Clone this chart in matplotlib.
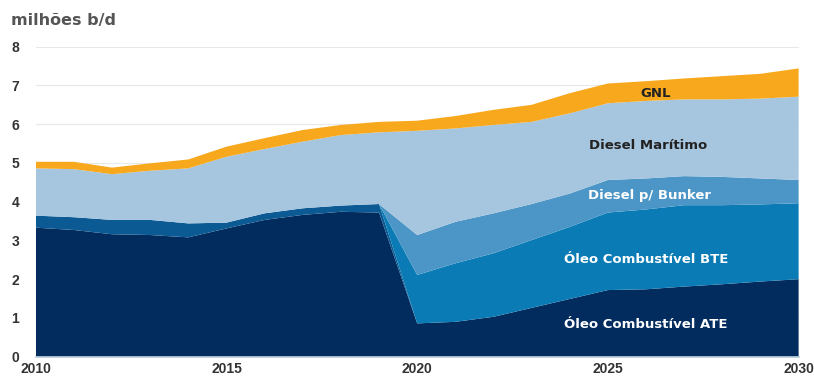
import numpy as np
import matplotlib
matplotlib.use("Agg")
import matplotlib.pyplot as plt

anos = list(range(2010, 2031))

# milhões b/d, por combustível (camadas empilhadas de baixo para cima)
oc_ate = [3.33, 3.27, 3.16, 3.14, 3.08, 3.31, 3.53, 3.66, 3.74, 3.72,
          0.86, 0.90, 1.03, 1.26, 1.49, 1.72, 1.74, 1.81, 1.87, 1.94, 2.00]
oc_outros = [0.31, 0.33, 0.37, 0.39, 0.36, 0.15, 0.17, 0.17, 0.16, 0.22,
             0, 0, 0, 0, 0, 0, 0, 0, 0, 0, 0]
oc_bte = [0, 0, 0, 0, 0, 0, 0, 0, 0, 0,
          1.25, 1.51, 1.64, 1.75, 1.86, 2.00, 2.06, 2.10, 2.04, 1.99, 1.96]
diesel_bunker = [0, 0, 0, 0, 0, 0, 0, 0, 0, 0,
                 1.03, 1.07, 1.03, 0.93, 0.86, 0.84, 0.80, 0.75, 0.73, 0.67, 0.60]
diesel_maritimo = [1.22, 1.24, 1.18, 1.27, 1.42, 1.70, 1.66, 1.72, 1.82, 1.85,
                   2.69, 2.41, 2.28, 2.12, 2.07, 1.98, 2.00, 1.98, 2.00, 2.06, 2.15]
gnl = [0.17, 0.19, 0.17, 0.19, 0.23, 0.26, 0.28, 0.30, 0.26, 0.27,
       0.26, 0.32, 0.39, 0.44, 0.52, 0.51, 0.51, 0.54, 0.60, 0.64, 0.73]

cores = ["#022b5e", "#0b5a93", "#0a7bb4", "#4b96c6", "#a6c5df", "#f7a81d"]

fig = plt.figure(figsize=(8.14, 3.78), dpi=100)
ax = fig.add_axes([0.0439, 0.0563, 0.9372, 0.8202])

ax.stackplot(anos, oc_ate, oc_outros, oc_bte, diesel_bunker, diesel_maritimo, gnl,
             colors=cores, linewidth=0, zorder=2)

ax.set_xlim(2010, 2030)
ax.set_ylim(0, 8)
ax.set_yticks(range(0, 9))
ax.set_xticks([2010, 2015, 2020, 2025, 2030])
ax.yaxis.grid(True, color="#e8e8e8", linewidth=0.8, zorder=0)
ax.set_axisbelow(True)
for lado in ["top", "right", "left"]:
    ax.spines[lado].set_visible(False)
ax.spines["bottom"].set_color("#b8c8d8")
ax.spines["bottom"].set_linewidth(1.2)
ax.spines["bottom"].set_zorder(3)
ax.tick_params(length=0, labelcolor="#333333")
ax.tick_params(axis="y", pad=12)
ax.tick_params(axis="x", pad=4)
for t in ax.get_xticklabels() + ax.get_yticklabels():
    t.set_fontfamily("Liberation Sans")
    t.set_fontweight("bold")
    t.set_fontsize(10)

fig.text(0.014, 0.945, "milhões b/d", fontsize=11.5, fontweight="bold",
         color="#555555", family="DejaVu Sans", va="center")

rotulos = [
    ("GNL", 2026.26, 6.80, "#222222"),
    ("Diesel Marítimo", 2026.05, 5.46, "#222222"),
    ("Diesel p/ Bunker", 2026.1, 4.17, "white"),
    ("Óleo Combustível BTE", 2026.0, 2.52, "white"),
    ("Óleo Combustível ATE", 2026.0, 0.82, "white"),
]
for texto, x, y, cor in rotulos:
    ax.text(x, y, texto, ha="center", va="center", fontsize=9.5,
            fontweight="bold", color=cor, family="DejaVu Sans", zorder=4)

fig.savefig("out.png", dpi=100)
